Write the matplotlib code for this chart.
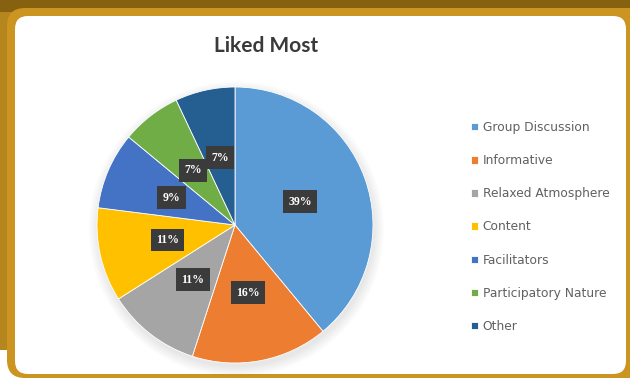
import matplotlib
matplotlib.use("Agg")
import matplotlib.pyplot as plt
from matplotlib.patches import FancyBboxPatch, Rectangle, Circle
import numpy as np

labels = ["Group Discussion", "Informative", "Relaxed Atmosphere", "Content",
          "Facilitators", "Participatory Nature", "Other"]
shares = [39, 16, 11, 11, 9, 7, 7]
colors = ["#5B9BD5", "#ED7D31", "#A5A5A5", "#FFC000", "#4472C4", "#70AD47", "#255E91"]

W, H = 630, 379
fig = plt.figure(figsize=(W / 100, H / 100), dpi=100)
fig.patch.set_facecolor("white")

# frame drawn in pixel coords (y down)
bg = fig.add_axes([0, 0, 1, 1])
bg.set_xlim(0, W)
bg.set_ylim(H, 0)
bg.axis("off")
bg.add_patch(Rectangle((0, 0), W, 350, fc="#b5861e", ec="none"))
bg.add_patch(Rectangle((0, 0), W, 12, fc="#86610f", ec="none"))
bg.add_patch(FancyBboxPatch((7 + 18, 8 + 18), W + 20 - 36, 370 - 36,
                            boxstyle="round,pad=18", fc="#cc9420", ec="none"))
bg.add_patch(FancyBboxPatch((15 + 13, 16 + 13), 611 - 26, 358 - 26,
                            boxstyle="round,pad=13", fc="white", ec="none"))

fig.text(266 / W, 1 - 46 / H, "Liked Most", ha="center", va="center",
         fontsize=15, fontweight="bold", color="#3a3a3a", family="Lato")

# pie centred at (235, 225) px, radius 138 px
cx, cy, r = 235, 225, 138
ax = fig.add_axes([(cx - r) / W, (H - cy - r) / H, 2 * r / W, 2 * r / H])

# soft halo under the pie
for rr in np.linspace(1.0, 1.07, 8):
    ax.add_patch(Circle((0.01, -0.03), rr, fc="#808080", ec="none",
                        alpha=0.025, clip_on=False, zorder=0))

wedges, texts, autotexts = ax.pie(
    shares, colors=colors, startangle=90, counterclock=False,
    autopct="%d%%", pctdistance=0.5,
    wedgeprops=dict(edgecolor="white", linewidth=0.6),
)
for t in autotexts:
    t.set_color("white")
    t.set_fontsize(8.5)
    t.set_fontweight("bold")
    t.set_family("Liberation Serif")
    t.set_bbox(dict(boxstyle="square,pad=0.45", fc="#3b3b3b", ec="none"))
ax.set_xlim(-1, 1)
ax.set_ylim(-1, 1)
ax.axis("off")

leg = fig.legend(wedges, labels, loc="upper left",
                 bbox_to_anchor=(471 / W, 1 - 121 / H),
                 frameon=False, fontsize=8.8, labelcolor="#606060",
                 handlelength=0.55, handleheight=0.55, handletextpad=0.4,
                 labelspacing=1.65, borderpad=0, borderaxespad=0)

fig.savefig("out.png", dpi=100)
